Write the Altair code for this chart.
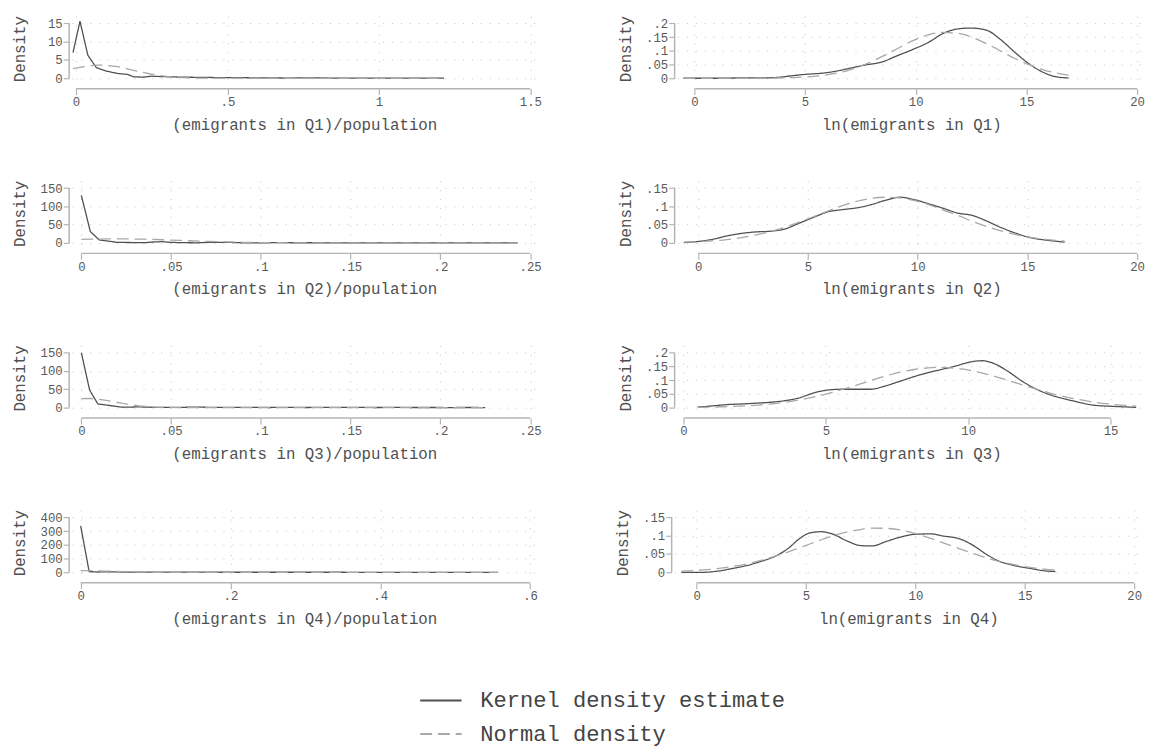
import altair as alt
import pandas as pd

FONT = "Liberation Mono"
KDE = "Kernel density estimate"
NORM = "Normal density"
SERIES = [KDE, NORM]
SERIES_COLORS = ["#505050", "#a8a8a8"]
SERIES_DASH = [[1, 0], [12, 6]]

# ---------------- left column: (emigrants in Qk)/population ----------------
q1_share_x = [-0.01, 0.013, 0.039, 0.067, 0.098, 0.137, 0.17, 0.19, 0.22, 0.25, 0.3, 0.35, 0.4, 0.45,
              0.5, 0.55, 0.6, 0.65, 0.7, 0.75, 0.8, 0.85, 0.9, 0.95, 1.0, 1.05, 1.1, 1.15, 1.215]
q1_share_kde = [7.0, 15.6, 6.3, 2.9, 2.0, 1.3, 1.05, 0.4, 0.3, 0.55, 0.4, 0.3, 0.25, 0.2, 0.15, 0.15,
                0.1, 0.08, 0.05, 0.1, 0.08, 0.05, 0.04, 0.03, 0.03, 0.03, 0.02, 0.02, 0.02]
q1_share_norm = [2.6, 3.0, 3.36, 3.57, 3.55, 3.15, 2.57, 2.18, 1.6, 1.09, 0.49, 0.18, 0.05, 0.013, 0.003,
                 0, 0, 0, 0, 0, 0, 0, 0, 0, 0, 0, 0, 0, 0]

q2_share_x = [0, 0.005, 0.01, 0.015, 0.02, 0.025, 0.03, 0.035, 0.04, 0.045, 0.05, 0.055, 0.06, 0.065,
              0.07, 0.08, 0.09, 0.1, 0.11, 0.12, 0.13, 0.14, 0.15, 0.16, 0.17, 0.18, 0.19, 0.2, 0.21,
              0.22, 0.23, 0.243]
q2_share_kde = [130, 31, 8, 5, 1.5, 1.2, 1.0, 0.5, 2.5, 3.5, 1.5, 0.8, 0.5, 0.3, 1.5, 1.8, 0.3, 0.1,
                0.8, 0.3, 0.5, 0.2, 0.3, 0.2, 0.1, 0.3, 0.1, 0.2, 0.1, 0.1, 0.1, 0.05]
q2_share_norm = [9.4, 10.1, 10.6, 10.9, 11.0, 10.9, 10.6, 10.1, 9.4, 8.7, 7.8, 6.9, 5.9, 5.0, 4.2, 2.7,
                 1.7, 0.94, 0.48, 0.23, 0.1, 0.04, 0.015, 0.005, 0, 0, 0, 0, 0, 0, 0, 0]

q3_share_x = [0, 0.0046, 0.0092, 0.0138, 0.0184, 0.023, 0.0276, 0.0322, 0.0368, 0.0414, 0.046, 0.055,
              0.065, 0.075, 0.085, 0.095, 0.105, 0.115, 0.125, 0.135, 0.145, 0.155, 0.165, 0.175,
              0.185, 0.195, 0.205, 0.215, 0.225]
q3_share_kde = [150, 48, 10, 7, 4, 1.0, 1.5, 2.0, 1.2, 0.6, 0.5, 0.8, 1.2, 0.6, 0.4, 0.5, 0.3, 0.5,
                0.3, 0.4, 0.6, 0.4, 0.3, 0.4, 0.3, 0.3, 0.2, 0.3, 0.2]
q3_share_norm = [24.6, 24.9, 23.2, 19.9, 15.8, 11.4, 7.6, 4.7, 2.7, 1.4, 0.67, 0.13, 0.01,
                 0, 0, 0, 0, 0, 0, 0, 0, 0, 0, 0, 0, 0, 0, 0, 0]

q4_share_x = [0, 0.0113, 0.0227, 0.034, 0.045, 0.057, 0.068, 0.08, 0.09, 0.1, 0.12, 0.14, 0.16, 0.18,
              0.2, 0.22, 0.24, 0.26, 0.28, 0.3, 0.32, 0.34, 0.36, 0.38, 0.4, 0.42, 0.44, 0.46, 0.48,
              0.5, 0.52, 0.54, 0.557]
q4_share_kde = [338, 5, 2, 3, 2.5, 2, 1.5, 1.5, 1.2, 1.0, 0.8, 0.6, 0.4, 0.4, 0.3, 0.3, 0.3, 0.2, 0.2,
                0.2, 0.2, 0.2, 0.1, 0.1, 0.1, 0.1, 0.1, 0.1, 0.1, 0.1, 0.1, 0.1, 0.1]
q4_share_norm = [11.5, 12.0, 11.2, 9.2, 6.8, 4.4, 2.6, 1.3, 0.64, 0.29, 0.05, 0.005,
                 0, 0, 0, 0, 0, 0, 0, 0, 0, 0, 0, 0, 0, 0, 0, 0, 0, 0, 0, 0, 0]

# ---------------- right column: ln(emigrants in Qk) ----------------
q1_ln_x = [-0.5, 1, 2, 3, 3.75, 4.4, 5, 5.7, 6.35, 7, 7.7, 8.5, 9.1, 9.9, 10.6, 11.2, 11.9, 12.5,
           13.2, 13.85, 14.5, 15.2, 15.8, 16.3, 16.9]
q1_ln_kde = [0, 0, 0.001, 0.001, 0.003, 0.009, 0.014, 0.018, 0.025, 0.036, 0.048, 0.06, 0.08, 0.106,
             0.132, 0.162, 0.18, 0.183, 0.175, 0.14, 0.093, 0.048, 0.02, 0.006, 0.001]
q1_ln_norm = [0, 0, 0.0001, 0.0003, 0.0009, 0.0021, 0.0044, 0.0092, 0.0174, 0.030, 0.050, 0.080, 0.105,
              0.138, 0.159, 0.167, 0.164, 0.151, 0.126, 0.099, 0.071, 0.047, 0.030, 0.020, 0.011]

q2_ln_x = [-0.66, 0, 0.66, 1.3, 1.97, 2.6, 3.3, 3.94, 4.6, 5.26, 5.9, 6.57, 7.23, 7.9, 8.55, 9.2, 9.86,
           10.5, 11.2, 11.8, 12.5, 13.1, 13.8, 14.5, 15.1, 15.8, 16.4, 16.7]
q2_ln_kde = [0.001, 0.004, 0.010, 0.019, 0.026, 0.030, 0.032, 0.038, 0.054, 0.070, 0.085, 0.091, 0.096,
             0.105, 0.117, 0.125, 0.118, 0.107, 0.094, 0.082, 0.075, 0.061, 0.042, 0.026, 0.015, 0.008,
             0.004, 0.002]
q2_ln_norm = [0.0019, 0.0033, 0.0056, 0.0091, 0.0144, 0.0213, 0.0315, 0.043, 0.057, 0.072, 0.087, 0.102,
              0.114, 0.122, 0.125, 0.123, 0.116, 0.105, 0.089, 0.076, 0.059, 0.046, 0.033, 0.0225,
              0.0156, 0.0097, 0.0062, 0.005]

q3_ln_x = [0.5, 1.0, 1.52, 2.0, 2.53, 3.0, 3.54, 4.05, 4.56, 5.06, 5.57, 6.08, 6.58, 7.09, 7.6, 8.1, 8.6,
           9.1, 9.6, 10.1, 10.5, 10.9, 11.4, 11.9, 12.4, 12.9, 13.7, 14.4, 15.2, 15.9]
q3_ln_kde = [0.002, 0.006, 0.011, 0.013, 0.016, 0.019, 0.025, 0.035, 0.053, 0.064, 0.067, 0.067, 0.067,
             0.079, 0.096, 0.113, 0.128, 0.140, 0.153, 0.167, 0.171, 0.161, 0.132, 0.096, 0.067, 0.046,
             0.024, 0.009, 0.004, 0.001]
q3_ln_norm = [0.0011, 0.0019, 0.0033, 0.0052, 0.0085, 0.0127, 0.0193, 0.0276, 0.0384, 0.051, 0.066,
              0.082, 0.099, 0.115, 0.129, 0.139, 0.145, 0.147, 0.143, 0.135, 0.126, 0.115, 0.099, 0.083,
              0.067, 0.052, 0.033, 0.020, 0.011, 0.0057]

q4_ln_x = [-0.7, 0.28, 0.94, 1.6, 2.26, 2.9, 3.6, 4.2, 4.7, 5.2, 5.7, 6.2, 6.9, 7.5, 8.0, 8.7, 9.3, 10.0,
           10.7, 11.3, 12.0, 12.6, 13.3, 13.8, 14.4, 15.3, 15.9, 16.4]
q4_ln_kde = [0.000, 0.000, 0.003, 0.010, 0.018, 0.029, 0.044, 0.066, 0.092, 0.108, 0.111, 0.105, 0.085,
             0.073, 0.072, 0.085, 0.096, 0.104, 0.105, 0.099, 0.092, 0.075, 0.047, 0.031, 0.020, 0.010,
             0.004, 0.002]
q4_ln_norm = [0.0029, 0.0063, 0.010, 0.0154, 0.0227, 0.0317, 0.044, 0.056, 0.067, 0.078, 0.089, 0.099,
              0.111, 0.117, 0.121, 0.120, 0.116, 0.106, 0.093, 0.080, 0.065, 0.052, 0.038, 0.030, 0.022,
              0.0128, 0.0086, 0.006]

# tick lists
share_q1_xticks = [0, 0.5, 1, 1.5]
share_q23_xticks = [0, 0.05, 0.1, 0.15, 0.2, 0.25]
share_q4_xticks = [0, 0.2, 0.4, 0.6]
ln_xticks = [0, 5, 10, 15, 20]
ln_q3_xticks = [0, 5, 10, 15]
share_q1_yticks = [0, 5, 10, 15]
share_q23_yticks = [0, 50, 100, 150]
share_q4_yticks = [0, 100, 200, 300, 400]
ln_y20 = [0, 0.05, 0.1, 0.15, 0.2]
ln_y15 = [0, 0.05, 0.1, 0.15]

H = 66
X_OFF = 7.6
Y_OFF = 3
AXC = "#b4b4b4"
LBL = "datum.value > 0 && datum.value < 1 ? substring(toString(datum.value), 1) : toString(datum.value)"

LEGEND = alt.Legend(
    title=None, orient="none", legendX=352, legendY=672, direction="vertical",
    labelFont=FONT, labelFontSize=22.4, labelColor="#444444", labelLimit=0, symbolType="stroke",
    symbolSize=1764, symbolStrokeWidth=2, labelOffset=18, rowPadding=0, padding=0,
)


def ydomain(top):
    return [-0.054 * top, 1.133 * top]


def panel(x, kde, norm, xticks, yticks, xdom, width, xtitle, title_x, interp):
    n = len(x)
    df = pd.DataFrame({
        "x": list(x) + list(x),
        "y": list(kde) + list(norm),
        "series": [KDE] * n + [NORM] * n,
    })
    lines = alt.Chart(df).mark_line(strokeWidth=1.3, interpolate=interp).encode(
        x=alt.X("x:Q", scale=alt.Scale(domain=xdom, nice=False, zero=False),
                axis=alt.Axis(values=xticks, tickCount=20, title=xtitle, labelExpr=LBL, offset=X_OFF)),
        y=alt.Y("y:Q", scale=alt.Scale(domain=ydomain(yticks[-1]), nice=False, zero=False),
                axis=alt.Axis(values=yticks, tickCount=20, title="Density", labelExpr=LBL, offset=Y_OFF,
                              titleX=title_x, titleBaseline="middle")),
        color=alt.Color("series:N", scale=alt.Scale(domain=SERIES, range=SERIES_COLORS), legend=LEGEND),
        strokeDash=alt.StrokeDash("series:N", scale=alt.Scale(domain=SERIES, range=SERIES_DASH), legend=LEGEND),
    )
    one = pd.DataFrame({"k": [0]})
    xline = alt.Chart(one).mark_rule(color=AXC, strokeWidth=1.5).encode(
        x=alt.datum(xticks[0]), x2=alt.datum(xticks[-1]), y=alt.value(H + X_OFF))
    yline = alt.Chart(one).mark_rule(color=AXC, strokeWidth=1.5).encode(
        y=alt.datum(yticks[0]), y2=alt.datum(yticks[-1]), x=alt.value(-Y_OFF))
    return alt.layer(lines, xline, yline).properties(width=width, height=H)


WL = 471
WR = 474
p1l = panel(q1_share_x, q1_share_kde, q1_share_norm, share_q1_xticks, share_q1_yticks,
            [-0.013, 1.5205], WL, "(emigrants in Q1)/population", -50.7, "linear")
p2l = panel(q2_share_x, q2_share_kde, q2_share_norm, share_q23_xticks, share_q23_yticks,
            [-0.00516, 0.25357], WL, "(emigrants in Q2)/population", -50.7, "linear")
p3l = panel(q3_share_x, q3_share_kde, q3_share_norm, share_q23_xticks, share_q23_yticks,
            [-0.00516, 0.25357], WL, "(emigrants in Q3)/population", -50.7, "linear")
p4l = panel(q4_share_x, q4_share_kde, q4_share_norm, share_q4_xticks, share_q4_yticks,
            [-0.01146, 0.60869], WL, "(emigrants in Q4)/population", -50.7, "linear")

p1r = panel(q1_ln_x, q1_ln_kde, q1_ln_norm, ln_xticks, ln_y20,
            [-0.757, 20.356], WR, "ln(emigrants in Q1)", -50, "monotone")
p2r = panel(q2_ln_x, q2_ln_kde, q2_ln_norm, ln_xticks, ln_y15,
            [-0.944, 20.36], WR, "ln(emigrants in Q2)", -50, "monotone")
p3r = panel(q3_ln_x, q3_ln_kde, q3_ln_norm, ln_q3_xticks, ln_y20,
            [-0.208, 16.21], WR, "ln(emigrants in Q3)", -50, "monotone")
p4r = panel(q4_ln_x, q4_ln_kde, q4_ln_norm, ln_xticks, ln_y15,
            [-1.006, 20.36], WR, "ln(emigrants in Q4)", -50, "monotone")

rows = []
for a, b, sp in [(p1l, p1r, 77), (p2l, p2r, 77), (p3l, p3r, 77), (p4l, p4r, 78)]:
    rows.append(alt.hconcat(a, b, spacing=sp).resolve_scale(x="independent", y="independent"))

chart = alt.vconcat(*rows, spacing=48).resolve_scale(
    x="independent", y="independent"
).properties(
    padding={"left": 3, "top": 2, "right": 0, "bottom": 0},
    background="white",
).configure_view(
    strokeWidth=0
).configure_axis(
    labelFont=FONT, labelFontSize=12.5, labelColor="#5a5a5a", labelPadding=1,
    labelOverlap=False, labelFlush=False, labelBound=False,
    titleFont=FONT, titleFontSize=16, titleFontWeight="normal", titleColor="#505050", titlePadding=8.5,
    grid=True, gridColor="#c4c4c4", gridDash=[1, 8], gridWidth=1,
    domain=False, tickColor=AXC, tickWidth=1.2, tickSize=6,
)

chart.save("out.html", embed_options={"renderer": "svg", "actions": False})
